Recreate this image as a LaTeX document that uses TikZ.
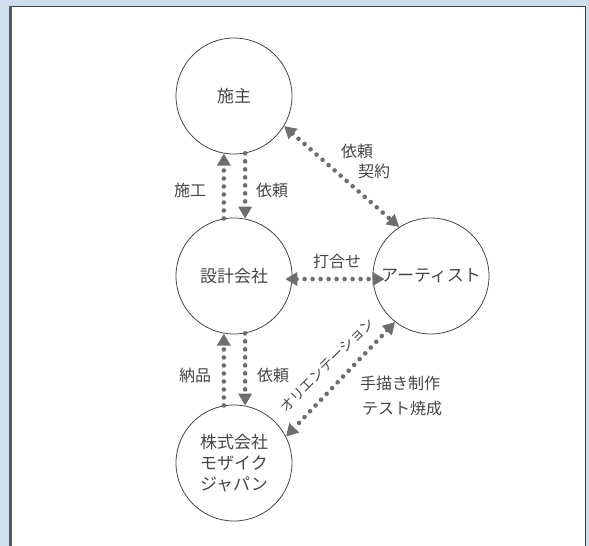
\documentclass[tikz,border=0pt]{standalone}
\usepackage{fontspec}
\newfontfamily\jpfont{Noto Sans CJK JP}
\usetikzlibrary{arrows.meta}
\definecolor{bgblue}{RGB}{205,223,236}
\definecolor{dotgray}{RGB}{110,110,110}
\definecolor{inkgray}{RGB}{70,70,70}

\begin{document}
\begin{tikzpicture}[x=1pt, y=-1pt,
		party/.style={circle, draw=inkgray, line width=0.8pt, minimum size=116pt, inner sep=0pt, align=center, text=inkgray, font=\jpfont\fontsize{17}{21}\selectfont},
		tag/.style={text=inkgray, inner sep=0pt, align=center, font=\jpfont\fontsize{16}{20}\selectfont},
		flow/.style={draw=dotgray, line width=4.6pt, line cap=round, dash pattern=on 0pt off 8pt},
		tipd/.style={{Triangle[width=13pt,length=12pt]}-{Triangle[width=13pt,length=12pt]}},
		tipe/.style={-{Triangle[width=13pt,length=12pt]}}]
			%%%%% START %%%%%
			
			\useasboundingbox (0, 0) rectangle (589, 546);
			\fill[bgblue] (0, 0) rectangle (589, 546);
			\draw[fill=white, draw=black!75, line width=1pt] (10, 6) rectangle (585, 560);
			\draw[line width=2.5pt, color=black!65] (10.5, 5.5) -- (10.5, 546);
			
			\node[party] (shu) at (234, 96) {施主};
			\node[party] (sekkei) at (234, 276) {設計会社};
			\node[party] (artist) at (431, 276) {アーティスト};
			\node[party] (mosaic) at (234, 463) {株式会社\\モザイク\\ジャパン};
			
			\draw[flow, tipe] (sekkei.100) -- (shu.-100);
			\draw[flow, tipe] (shu.-79) -- (sekkei.79);
			\draw[flow, tipe] (mosaic.100) -- (sekkei.-100);
			\draw[flow, tipe] (sekkei.-79) -- (mosaic.79);
			\draw[flow, tipd, shorten <=-7pt, shorten >=-12pt] (sekkei.-3) -- (artist.183);
			\draw[flow, tipd] (shu.-31) -- (artist.123);
			\draw[flow, tipd] (artist.-128) -- (mosaic.27);
			
			\node[tag] (sekou) at (190, 190) {施工};
			\node[tag] (irai1) at (272, 190) {依頼};
			\node[tag] (irai2) at (357, 151) {依頼};
			\node[tag] (keiyaku) at (374, 171) {契約};
			\node[tag] (uchiawase) at (337, 261) {打合せ};
			\node[tag] (nouhin) at (195, 375) {納品};
			\node[tag] (irai3) at (273, 375) {依頼};
			\node[tag] (seisaku) at (400, 383) {手描き制作};
			\node[tag] (shousei) at (402, 408) {テスト焼成};
			\node[tag, rotate=45, font=\jpfont\fontsize{14}{17}\selectfont] (orient) at (327, 365) {オリエンテーション};
			
			%%%%% END %%%%%
\end{tikzpicture}
\end{document}
